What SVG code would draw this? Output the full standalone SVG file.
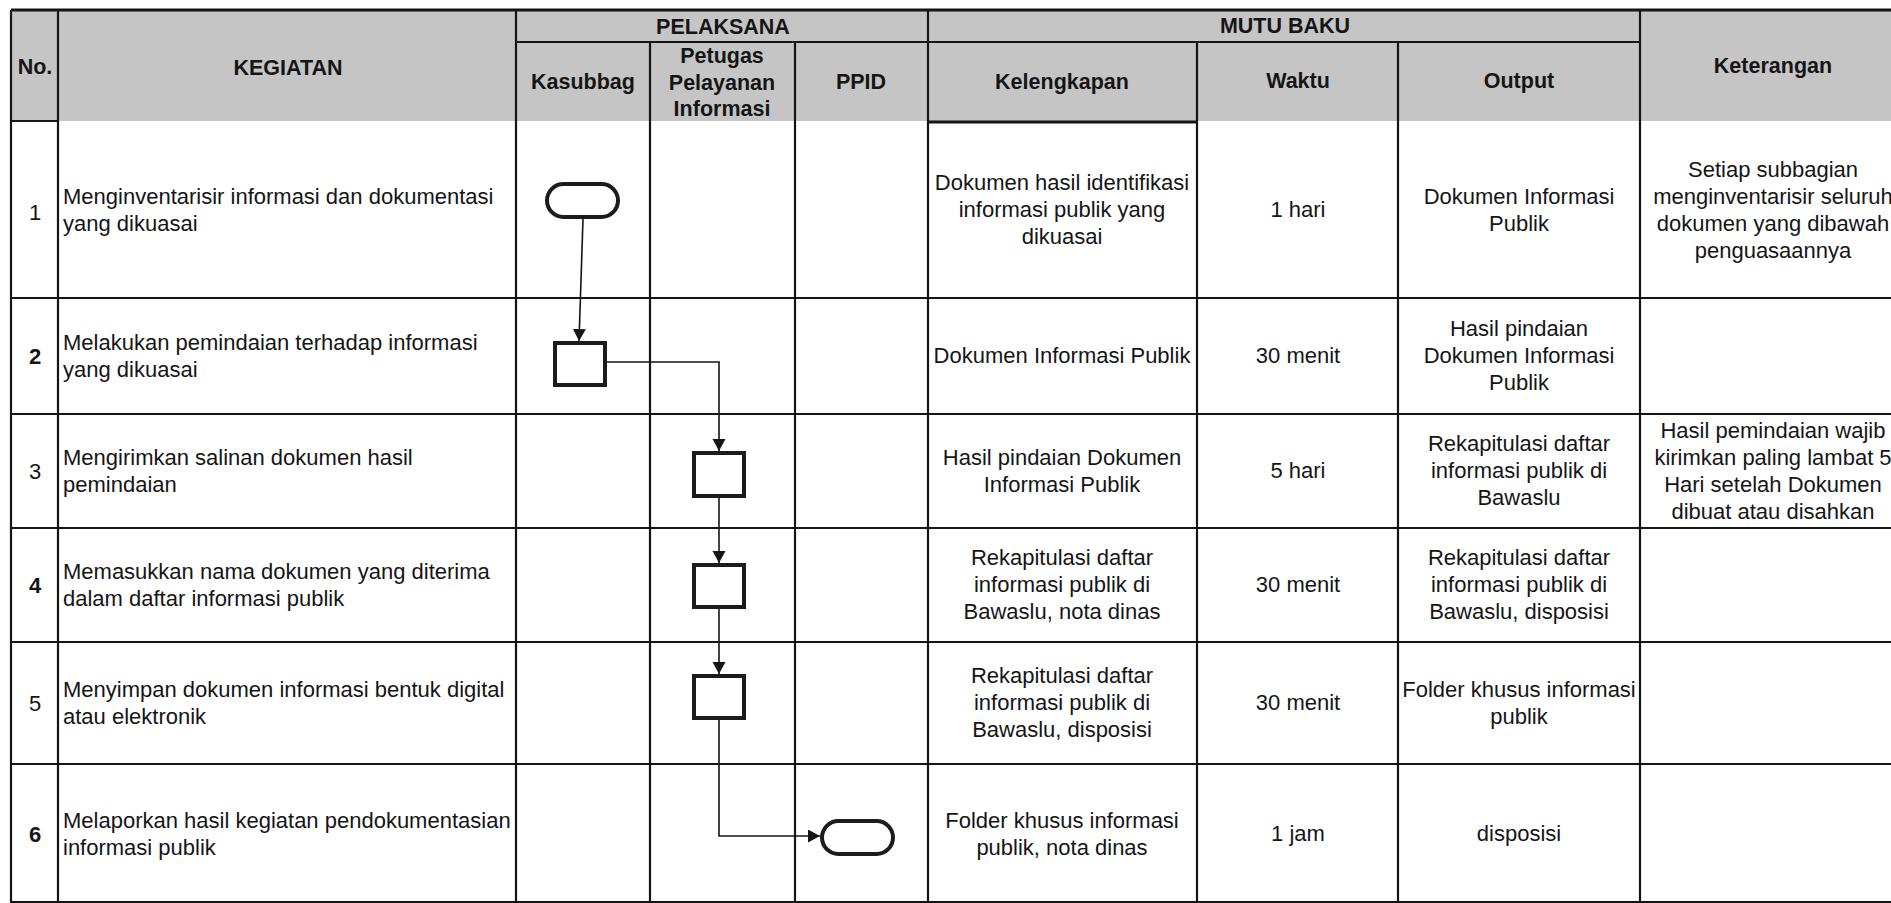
<svg xmlns="http://www.w3.org/2000/svg" width="1891" height="903" viewBox="0 0 1891 903">
<style>
text{font-family:"Liberation Sans",Arial,sans-serif;font-size:22px;fill:#151515}
.h{font-weight:bold;font-size:21.5px;text-anchor:middle}
.c{text-anchor:middle}
.b{font-weight:bold}
.g{stroke:#151515;stroke-width:2.2;fill:none}
.gt{stroke:#151515;stroke-width:3.2;fill:none}
.node{fill:#fff;stroke:#1c1c1c;stroke-width:4}
.conn{stroke:#151515;stroke-width:1.6;fill:none}
</style>
<defs>
<marker id="ah" markerUnits="userSpaceOnUse" markerWidth="14" markerHeight="14" refX="12" refY="6.5" orient="auto"><path d="M0,0 L12,6.5 L0,13 z" fill="#151515"/></marker>
</defs>
<rect x="0" y="0" width="1891" height="903" fill="#fff"/>
<rect x="11" y="10" width="1880" height="111" fill="#c5c5c5"/>

<g id="grid">
<line class="gt" x1="11" y1="10" x2="1891" y2="10"/>
<line class="g" x1="11" y1="10" x2="11" y2="903"/>
<line class="g" x1="58" y1="10" x2="58" y2="903"/>
<line class="g" x1="516" y1="10" x2="516" y2="903"/>
<line class="g" x1="650" y1="42" x2="650" y2="903"/>
<line class="g" x1="795" y1="42" x2="795" y2="903"/>
<line class="g" x1="928" y1="10" x2="928" y2="903"/>
<line class="g" x1="1197" y1="42" x2="1197" y2="903"/>
<line class="g" x1="1398" y1="42" x2="1398" y2="903"/>
<line class="g" x1="1640" y1="10" x2="1640" y2="903"/>
<line class="g" x1="516" y1="42" x2="1640" y2="42"/>
<line class="g" x1="11" y1="121" x2="58" y2="121"/>
<line class="gt" x1="928" y1="122" x2="1197" y2="122"/>
<line class="g" x1="11" y1="298" x2="1891" y2="298"/>
<line class="g" x1="11" y1="414" x2="1891" y2="414"/>
<line class="g" x1="11" y1="528" x2="1891" y2="528"/>
<line class="g" x1="11" y1="642" x2="1891" y2="642"/>
<line class="g" x1="11" y1="764" x2="1891" y2="764"/>
<line class="g" x1="11" y1="902" x2="1891" y2="902"/>
</g>

<g id="header">
<text class="h" x="35" y="74">No.</text>
<text class="h" x="288" y="75">KEGIATAN</text>
<text class="h" x="723" y="34">PELAKSANA</text>
<text class="h" x="1285" y="33">MUTU BAKU</text>
<text class="h" x="1773" y="73">Keterangan</text>
<text class="h" x="583" y="89">Kasubbag</text>
<text class="h" x="722" y="63">Petugas</text>
<text class="h" x="722" y="90">Pelayanan</text>
<text class="h" x="722" y="116">Informasi</text>
<text class="h" x="861" y="89">PPID</text>
<text class="h" x="1062" y="89">Kelengkapan</text>
<text class="h" x="1298" y="88">Waktu</text>
<text class="h" x="1519" y="88">Output</text>
</g>

<g id="row1">
<text class="c" x="35" y="220">1</text>
<text x="63" y="203.5">Menginventarisir informasi dan dokumentasi</text>
<text x="63" y="230.5">yang dikuasai</text>
<text class="c" x="1062" y="190">Dokumen hasil identifikasi</text>
<text class="c" x="1062" y="217">informasi publik yang</text>
<text class="c" x="1062" y="244">dikuasai</text>
<text class="c" x="1298" y="217">1 hari</text>
<text class="c" x="1519" y="203.5">Dokumen Informasi</text>
<text class="c" x="1519" y="230.5">Publik</text>
<text class="c" x="1773" y="176.5">Setiap subbagian</text>
<text class="c" x="1773" y="203.5">menginventarisir seluruh</text>
<text class="c" x="1773" y="230.5">dokumen yang dibawah</text>
<text class="c" x="1773" y="257.5">penguasaannya</text>
</g>

<g id="row2">
<text class="c b" x="35" y="364">2</text>
<text x="63" y="349.5">Melakukan pemindaian terhadap informasi</text>
<text x="63" y="376.5">yang dikuasai</text>
<text class="c" x="1062" y="363">Dokumen Informasi Publik</text>
<text class="c" x="1298" y="363">30 menit</text>
<text class="c" x="1519" y="336">Hasil pindaian</text>
<text class="c" x="1519" y="363">Dokumen Informasi</text>
<text class="c" x="1519" y="390">Publik</text>
</g>

<g id="row3">
<text class="c" x="35" y="479">3</text>
<text x="63" y="464.5">Mengirimkan salinan dokumen hasil</text>
<text x="63" y="491.5">pemindaian</text>
<text class="c" x="1062" y="464.5">Hasil pindaian Dokumen</text>
<text class="c" x="1062" y="491.5">Informasi Publik</text>
<text class="c" x="1298" y="478">5 hari</text>
<text class="c" x="1519" y="451">Rekapitulasi daftar</text>
<text class="c" x="1519" y="478">informasi publik di</text>
<text class="c" x="1519" y="505">Bawaslu</text>
<text class="c" x="1773" y="437.5">Hasil pemindaian wajib</text>
<text class="c" x="1773" y="464.5">kirimkan paling lambat 5</text>
<text class="c" x="1773" y="491.5">Hari setelah Dokumen</text>
<text class="c" x="1773" y="518.5">dibuat atau disahkan</text>
</g>

<g id="row4">
<text class="c b" x="35" y="593">4</text>
<text x="63" y="578.5">Memasukkan nama dokumen yang diterima</text>
<text x="63" y="605.5">dalam daftar informasi publik</text>
<text class="c" x="1062" y="565">Rekapitulasi daftar</text>
<text class="c" x="1062" y="592">informasi publik di</text>
<text class="c" x="1062" y="619">Bawaslu, nota dinas</text>
<text class="c" x="1298" y="592">30 menit</text>
<text class="c" x="1519" y="565">Rekapitulasi daftar</text>
<text class="c" x="1519" y="592">informasi publik di</text>
<text class="c" x="1519" y="619">Bawaslu, disposisi</text>
</g>

<g id="row5">
<text class="c" x="35" y="711">5</text>
<text x="63" y="696.5">Menyimpan dokumen informasi bentuk digital</text>
<text x="63" y="723.5">atau elektronik</text>
<text class="c" x="1062" y="683">Rekapitulasi daftar</text>
<text class="c" x="1062" y="710">informasi publik di</text>
<text class="c" x="1062" y="737">Bawaslu, disposisi</text>
<text class="c" x="1298" y="710">30 menit</text>
<text class="c" x="1519" y="696.5">Folder khusus informasi</text>
<text class="c" x="1519" y="723.5">publik</text>
</g>

<g id="row6">
<text class="c b" x="35" y="842">6</text>
<text x="63" y="827.5">Melaporkan hasil kegiatan pendokumentasian</text>
<text x="63" y="854.5">informasi publik</text>
<text class="c" x="1062" y="827.5">Folder khusus informasi</text>
<text class="c" x="1062" y="854.5">publik, nota dinas</text>
<text class="c" x="1298" y="841">1 jam</text>
<text class="c" x="1519" y="841">disposisi</text>
</g>

<g id="node-start">
<rect class="node" x="547" y="184" width="71" height="33" rx="16.5"/>
</g>
<g id="node-step2">
<rect class="node" x="555" y="343" width="50" height="42"/>
</g>
<g id="node-step3">
<rect class="node" x="694" y="453" width="50" height="43"/>
</g>
<g id="node-step4">
<rect class="node" x="694" y="565" width="50" height="42"/>
</g>
<g id="node-step5">
<rect class="node" x="694" y="676" width="50" height="42"/>
</g>
<g id="node-end">
<rect class="node" x="822" y="821" width="71" height="33" rx="16.5"/>
</g>

<g id="connectors">
<path class="conn" d="M583,219 L579,341" marker-end="url(#ah)"/>
<path class="conn" d="M607,362 H719 V451" marker-end="url(#ah)"/>
<path class="conn" d="M719,498 V563" marker-end="url(#ah)"/>
<path class="conn" d="M719,609 V674" marker-end="url(#ah)"/>
<path class="conn" d="M719,720 V836 H820" marker-end="url(#ah)"/>
</g>
</svg>
